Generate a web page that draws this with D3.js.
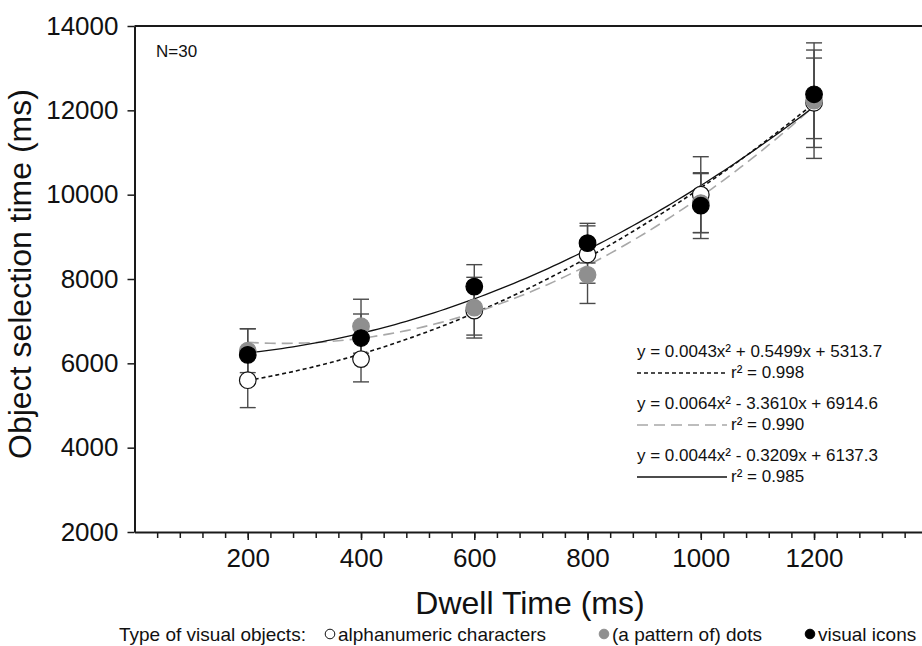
<!DOCTYPE html>
<html>
<head>
<meta charset="utf-8">
<script src="https://cdn.jsdelivr.net/npm/d3@7"></script>
<style>
  body { margin: 0; background: #fff; }
  svg { display: block; font-family: "Liberation Sans", Arial, sans-serif; }
</style>
</head>
<body>
<div id="chart"></div>
<script>
// dwell times and mean selection times (ms) with SD
const dwell = [200, 400, 600, 800, 1000, 1200];
const alphaMean = [5600, 6100, 7250, 8580, 10000, 12180];
const alphaSd   = [650, 540, 580, 680, 900, 1060];
const dotsMean  = [6300, 6880, 7320, 8100, 9800, 12230];
const dotsSd    = [520, 640, 720, 680, 700, 1370];
const iconsMean = [6200, 6600, 7820, 8850, 9740, 12380];
const iconsSd   = [620, 570, 520, 470, 780, 1050];

// quadratic fits a*x^2 + b*x + c
const alphaFit = [0.0043, 0.5499, 5313.7];
const dotsFit  = [0.0064, -3.3610, 6914.6];
const iconsFit = [0.0044, -0.3209, 6137.3];
const eqText = ["y = 0.0043x² + 0.5499x + 5313.7", "y = 0.0064x² - 3.3610x + 6914.6", "y = 0.0044x² - 0.3209x + 6137.3"];
const r2Text = ["r² = 0.998", "r² = 0.990", "r² = 0.985"];

const xTicks = [200, 400, 600, 800, 1000, 1200];
const xMinor = d3.range(40, 1400, 40);
const yTicks = [2000, 4000, 6000, 8000, 10000, 12000, 14000];
const legendNames = ["alphanumeric characters", "(a pattern of) dots", "visual icons"];

const series = [
  {mean: alphaMean, sd: alphaSd, fit: alphaFit, fill: "#fff", stroke: "#111", line: "#111", dash: "4,3", lw: 1.6},
  {mean: dotsMean, sd: dotsSd, fit: dotsFit, fill: "#8f8f8f", stroke: "#8f8f8f", line: "#a8a8a8", dash: "11,6", lw: 1.6},
  {mean: iconsMean, sd: iconsSd, fit: iconsFit, fill: "#000", stroke: "#000", line: "#111", dash: null, lw: 1.3}
];

const svg = d3.select("#chart").append("svg")
  .attr("width", 922)
  .attr("height", 646);

// scales
const x = d3.scaleLinear().domain([0, 1400]).range([134.5, 927.3]);
const y = d3.scaleLinear().domain([2000, 14000]).range([532, 26]);

// minor x ticks
svg.append("g")
   .attr("transform", "translate(0," + y(2000) + ")")
   .call(d3.axisBottom(x).tickValues(xMinor).tickSize(6).tickSizeOuter(0).tickFormat(""))
   .call(g => g.select(".domain").remove())
   .selectAll("line").attr("stroke", "#1a1a1a").attr("stroke-width", 1.5);

// major x axis
const xg = svg.append("g")
   .attr("transform", "translate(0," + y(2000) + ")")
   .call(d3.axisBottom(x).tickValues(xTicks).tickSize(8).tickSizeOuter(0).tickPadding(9).tickFormat(d3.format("d")));
xg.select(".domain").attr("stroke", "#1a1a1a").attr("stroke-width", 2);
xg.selectAll("line").attr("stroke", "#1a1a1a").attr("stroke-width", 1.5);
xg.selectAll("text").attr("font-size", 26).attr("font-family", "Liberation Sans, Arial, sans-serif").attr("fill", "#111");

// y axis
const yg = svg.append("g")
   .attr("transform", "translate(" + x(0) + ",0)")
   .call(d3.axisLeft(y).tickValues(yTicks).tickSize(7).tickSizeOuter(0).tickPadding(9).tickFormat(d3.format("d")));
yg.select(".domain").attr("stroke", "#1a1a1a").attr("stroke-width", 2);
yg.selectAll("line").attr("stroke", "#1a1a1a").attr("stroke-width", 1.5);
yg.selectAll("text").attr("font-size", 26).attr("font-family", "Liberation Sans, Arial, sans-serif").attr("fill", "#111");

// top frame line
svg.append("line")
   .attr("x1", x(0)).attr("x2", x(1400))
   .attr("y1", y(14000)).attr("y2", y(14000))
   .attr("stroke", "#1a1a1a").attr("stroke-width", 2);

// fitted curves
const fitX = d3.range(200, 1201, 10);
const line = d3.line().x(d => x(d[0])).y(d => y(d[1]));
series.forEach(s => {
  const pts = fitX.map(v => [v, s.fit[0] * v * v + s.fit[1] * v + s.fit[2]]);
  svg.append("path")
     .attr("d", line(pts))
     .attr("fill", "none")
     .attr("stroke", s.line)
     .attr("stroke-width", s.lw)
     .attr("stroke-dasharray", s.dash);
});

// error bars
series.forEach(s => {
  const g = svg.append("g").attr("stroke", "#4a4a4a").attr("stroke-width", 1.4);
  dwell.forEach((d, i) => {
    const top = s.mean[i] + s.sd[i], bot = s.mean[i] - s.sd[i];
    g.append("line").attr("x1", x(d)).attr("x2", x(d)).attr("y1", y(top)).attr("y2", y(bot));
    g.append("line").attr("x1", x(d) - 8).attr("x2", x(d) + 8).attr("y1", y(top)).attr("y2", y(top));
    g.append("line").attr("x1", x(d) - 8).attr("x2", x(d) + 8).attr("y1", y(bot)).attr("y2", y(bot));
  });
});

// markers
series.forEach(s => {
  svg.append("g").selectAll("circle")
     .data(dwell)
     .enter()
     .append("circle")
     .attr("cx", d => x(d))
     .attr("cy", (d, i) => y(s.mean[i]))
     .attr("r", 8.3)
     .attr("fill", s.fill)
     .attr("stroke", s.stroke)
     .attr("stroke-width", 1.2);
});

// N label
svg.append("text").attr("x", 156).attr("y", 57).attr("font-size", 17).attr("fill", "#111").text("N=30");

// equations legend
series.forEach((s, i) => {
  const base = 357 + i * 52;
  svg.append("text").attr("x", 637).attr("y", base).attr("font-size", 17).attr("fill", "#111").text(eqText[i]);
  svg.append("line")
     .attr("x1", 637).attr("x2", 727)
     .attr("y1", base + 16).attr("y2", base + 16)
     .attr("stroke", s.line).attr("stroke-width", s.lw)
     .attr("stroke-dasharray", s.dash);
  svg.append("text").attr("x", 731).attr("y", base + 21).attr("font-size", 17).attr("fill", "#111").text(r2Text[i]);
});

// axis titles
svg.append("text")
   .attr("transform", "translate(31,274) rotate(-90)")
   .attr("text-anchor", "middle")
   .attr("font-size", 32)
   .attr("fill", "#111")
   .text("Object selection time (ms)");

svg.append("text")
   .attr("x", 530).attr("y", 614)
   .attr("text-anchor", "middle")
   .attr("font-size", 32)
   .attr("fill", "#111")
   .text("Dwell Time (ms)");

// bottom legend
svg.append("text").attr("x", 119).attr("y", 641).attr("font-size", 19).attr("fill", "#111").text("Type of visual objects:");
const legX = [330, 604, 810];
series.forEach((s, i) => {
  svg.append("circle")
     .attr("cx", legX[i]).attr("cy", 634).attr("r", 4.8)
     .attr("fill", s.fill).attr("stroke", s.stroke).attr("stroke-width", 1);
  svg.append("text").attr("x", legX[i] + 8).attr("y", 641).attr("font-size", 19).attr("fill", "#111").text(legendNames[i]);
});
</script>
</body>
</html>
